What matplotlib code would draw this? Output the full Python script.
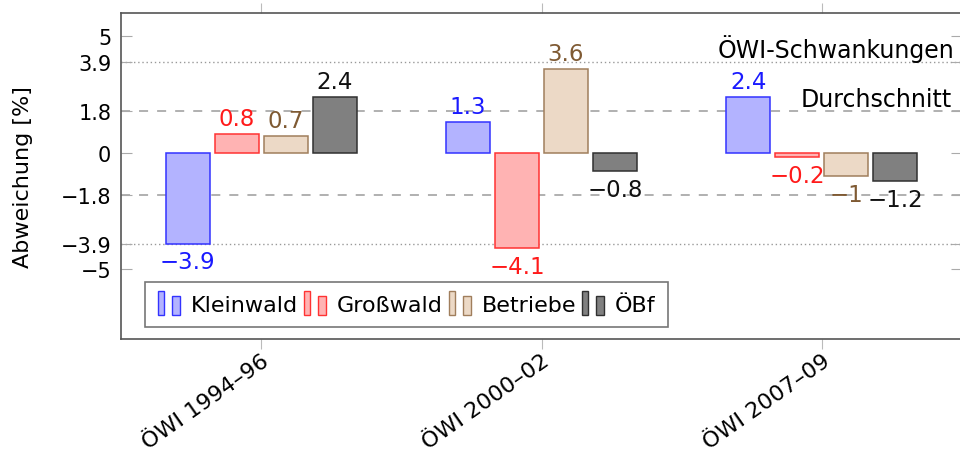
import matplotlib
matplotlib.use("Agg")
import matplotlib.pyplot as plt
from matplotlib.patches import Rectangle
from matplotlib.legend_handler import HandlerBase
import numpy as np

plt.rcParams.update({"font.family": ["DejaVu Sans"], "font.size": 15})

periods = ["ÖWI 1994–96", "ÖWI 2000–02", "ÖWI 2007–09"]
series = ["Kleinwald", "Großwald", "Betriebe", "ÖBf"]
kleinwald = [-3.9, 1.3, 2.4]
grosswald = [0.8, -4.1, -0.2]
betriebe = [0.7, 3.6, -1.0]
oebf = [2.4, -0.8, -1.2]
yticks = [5, 3.9, 1.8, 0, -1.8, -3.9, -5]

# fill, edge, label colour per series
STY = [("#b3b3ff", "#3333ff", "#1a1aff"),
       ("#ffb3b3", "#ff3333", "#ff1a1a"),
       ("#ecd9c6", "#a07e5c", "#7f5a33"),
       ("#808080", "#303030", "#111111")]


class TwoBars(HandlerBase):
    def create_artists(self, legend, orig, xd, yd, w, h, fs, trans):
        fc, ec = orig.get_facecolor(), orig.get_edgecolor()
        r1 = Rectangle((-xd + 0.02 * w, -yd - 0.3 * h), 0.2 * w, 1.55 * h,
                       fc=fc, ec=ec, lw=1, transform=trans)
        r2 = Rectangle((-xd + 0.5 * w, -yd - 0.3 * h), 0.28 * w, 1.25 * h,
                       fc=fc, ec=ec, lw=1, transform=trans)
        return [r1, r2]


def fmt(v):
    return f"{v:g}".replace("-", "\u2212")


fig = plt.figure(figsize=(9.6, 4.56), dpi=100)
ax = fig.add_axes([121 / 960, 1 - 340 / 456, 841 / 960, 326 / 456])

x = np.arange(len(periods))
step, bw = 0.175, 0.157
handles = []
for i, (name, vals) in enumerate(zip(series, [kleinwald, grosswald, betriebe, oebf])):
    fc, ec, tc = STY[i]
    pos = x + (i - 1.5) * step
    bars = ax.bar(pos, vals, bw, color=fc, edgecolor=ec, lw=1.1, zorder=3, label=name)
    handles.append(bars.patches[0])
    for p, v in zip(pos, vals):
        if v >= 0:
            ax.annotate(fmt(v), (p, v), xytext=(0, 3), textcoords="offset points",
                        ha="center", va="bottom", color=tc, fontsize=16.5)
        else:
            ax.annotate(fmt(v), (p, v), xytext=(0, -5), textcoords="offset points",
                        ha="center", va="top", color=tc, fontsize=16.5)

for y in (1.8, -1.8):
    ax.axhline(y, color="#aaaaaa", lw=1.3, ls=(0, (5, 5)), zorder=1)
for y in (3.9, -3.9):
    ax.axhline(y, color="#999999", lw=1.0, ls=(0, (1, 2)), zorder=1)

ax.text(0.991, 3.9, "ÖWI-Schwankungen", transform=ax.get_yaxis_transform(),
        ha="right", va="bottom", fontsize=17)
ax.text(0.988, 1.8, "Durchschnitt", transform=ax.get_yaxis_transform(),
        ha="right", va="bottom", fontsize=17)

ax.set_xlim(-0.5, 2.5)
ax.set_ylim(-8, 6)
ax.set_yticks(yticks)
ax.set_yticklabels([fmt(t) for t in yticks])
ax.set_xticks(x)
ax.set_xticklabels(periods, rotation=35, ha="right", rotation_mode="anchor",
                   fontsize=16)
ax.tick_params(axis="x", direction="out", length=7, color="#bbbbbb", top=True,
               pad=1)
ax.tick_params(axis="y", direction="in", length=8, color="#aaaaaa", right=True,
               pad=7)
for s in ax.spines.values():
    s.set_color("#555555")
    s.set_linewidth(1.2)
ax.set_ylabel("Abweichung [%]", fontsize=16, labelpad=20)

leg = ax.legend(handles, series, handler_map={Rectangle: TwoBars()}, ncol=4,
                loc="lower left", bbox_to_anchor=(0.029, 0.037), frameon=True,
                fancybox=False, edgecolor="#555555", handlelength=1.3,
                handletextpad=0.2, columnspacing=0.25, borderpad=0.55,
                borderaxespad=0, fontsize=16)
leg.get_frame().set_linewidth(1.2)

fig.savefig("out.png", dpi=100)
